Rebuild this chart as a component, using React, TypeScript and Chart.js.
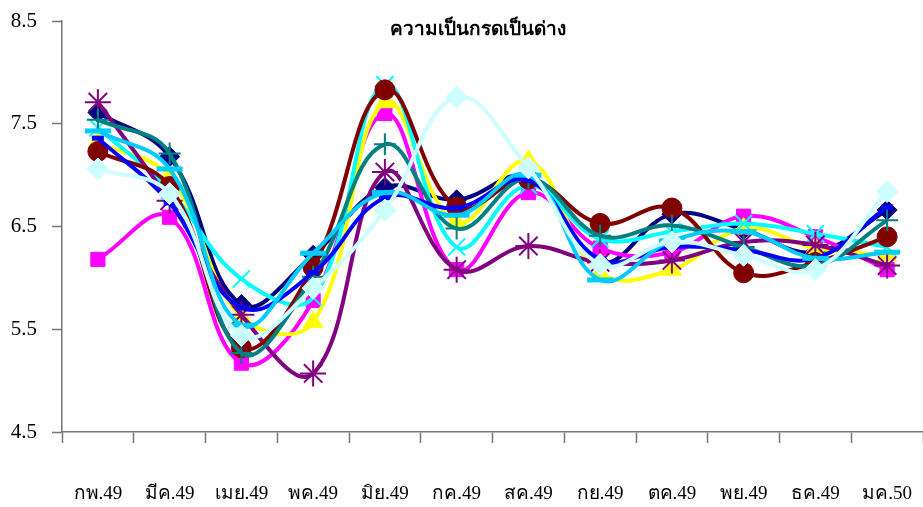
import React, { useEffect, useRef } from "react";
import { Chart, registerables } from "chart.js";

Chart.register(...registerables);

const categories = ["กพ.49", "มีค.49", "เมย.49", "พค.49", "มิย.49", "กค.49", "สค.49", "กย.49", "ตค.49", "พย.49", "ธค.49", "มค.50"];
const yTicks = [4.5, 5.5, 6.5, 7.5, 8.5];
const titleText = "ความเป็นกรดเป็นด่าง";

const sNavy = [7.61, 7.18, 5.74, 6.22, 6.88, 6.76, 6.98, 6.15, 6.62, 6.47, 6.25, 6.66];
const sMagenta = [6.18, 6.59, 5.17, 5.78, 7.6, 6.08, 6.83, 6.29, 6.25, 6.6, 6.4, 6.08];
const sYellow = [7.32, 6.98, 5.62, 5.57, 7.71, 6.54, 7.14, 6.05, 6.08, 6.48, 6.29, 6.22];
const sCyan = [7.46, 6.85, 5.99, 5.81, 7.88, 6.3, 6.9, 6.38, 6.45, 6.53, 6.43, 6.3];
const sPurple = [7.71, 6.75, 5.64, 5.07, 7.03, 6.08, 6.31, 6.15, 6.17, 6.35, 6.32, 6.12];
const sMaroon = [7.23, 6.89, 5.32, 6.1, 7.83, 6.69, 6.96, 6.53, 6.68, 6.05, 6.15, 6.4];
const sTeal = [7.54, 7.21, 5.27, 6.01, 7.3, 6.48, 6.97, 6.41, 6.51, 6.3, 6.12, 6.56];
const sBlue = [7.36, 6.73, 5.71, 6.05, 6.78, 6.68, 6.95, 6.18, 6.3, 6.27, 6.19, 6.69];
const sSky = [7.43, 7.06, 5.54, 6.24, 6.83, 6.61, 7.0, 5.98, 6.36, 6.45, 6.19, 6.25];
const sLightCyan = [7.06, 6.82, 5.44, 5.9, 6.66, 7.76, 7.07, 6.13, 6.35, 6.22, 6.08, 6.84];

export default function App() {
  const ref = useRef<HTMLCanvasElement>(null);
  useEffect(() => {
    document.body.style.margin = "0";
    const ctx = ref.current!.getContext("2d")!;
    const mk = (data: number[], color: string, style: any, radius: number, fill: boolean, bw = 2) => ({
      data,
      borderColor: color,
      backgroundColor: color,
      borderWidth: 4,
      pointStyle: style,
      pointRadius: radius,
      pointBackgroundColor: color,
      pointBorderColor: color,
      pointBorderWidth: fill ? 1 : bw,
      tension: 0.4,
      fill: false,
      clip: false,
    });
    const dsList = [
      mk(sNavy, "#000080", "rectRot", 10, true),
      mk(sMagenta, "#FF00FF", "rect", 10, true),
      mk(sYellow, "#FFFF00", "triangle", 11, true),
      mk(sCyan, "#00FFFF", "crossRot", 12, false, 2),
      mk(sPurple, "#800080", "star", 13, false, 2),
      mk(sMaroon, "#800000", "circle", 10, true),
      mk(sTeal, "#008080", "cross", 11, false, 2),
      mk(sBlue, "#0000FF", "line", 6, false, 5),
      mk(sSky, "#00CCFF", "line", 13, false, 5),
      mk(sLightCyan, "#CCFFFF", "rectRot", 11, true),
    ];
    const n = dsList.length;
    const datasets = dsList.map((d, i) => ({ ...d, order: n - i }));
    const titlePlugin = {
      id: "titleDraw",
      afterDraw(chart: any) {
        const c = chart.ctx;
        c.save();
        c.font = "bold 19px 'Liberation Serif', serif";
        c.fillStyle = "#000";
        c.textAlign = "center";
        c.textBaseline = "middle";
        c.fillText(titleText, 478, 30);
        c.restore();
      },
    };
    const chart = new Chart(ctx, {
      type: "line",
      data: { labels: categories, datasets },
      options: {
        animation: false,
        responsive: false,
        maintainAspectRatio: false,
        layout: { autoPadding: false, padding: { top: 21, right: 0, left: 0, bottom: 0 } },
        plugins: { legend: { display: false }, tooltip: { enabled: false }, title: { display: false } },
        scales: {
          x: {
            offset: true,
            grid: { offset: true, drawOnChartArea: false, tickLength: 11, color: "#777", tickWidth: 1.5 },
            border: { color: "#777", width: 1.5 },
            ticks: { color: "#000", padding: 40, maxRotation: 0, autoSkip: false, font: { family: "'Liberation Serif', serif", size: 19 } },
            afterFit(scale: any) { scale.height = 75; scale.paddingLeft = 0; scale.paddingRight = 0; },
          },
          y: {
            min: 4.5,
            max: 8.5,
            afterBuildTicks(scale: any) { scale.ticks = yTicks.map((v) => ({ value: v })); },
            grid: { drawOnChartArea: false, tickLength: 10, color: "#777", tickWidth: 1.5 },
            border: { color: "#777", width: 1.5 },
            ticks: { color: "#000", padding: 15, font: { family: "'Liberation Serif', serif", size: 21 }, callback: (v: any) => Number(v).toFixed(1) },
            afterFit(scale: any) { scale.width = 62; scale.paddingTop = 0; scale.paddingBottom = 0; },
          },
        },
      },
      plugins: [titlePlugin],
    });
    return () => chart.destroy();
  }, []);
  return (
    <div style={{ position: "fixed", left: 0, top: 0, width: 923, height: 507, background: "#fff" }}>
      <canvas ref={ref} width={923} height={507} style={{ width: 923, height: 507 }} />
    </div>
  );
}
